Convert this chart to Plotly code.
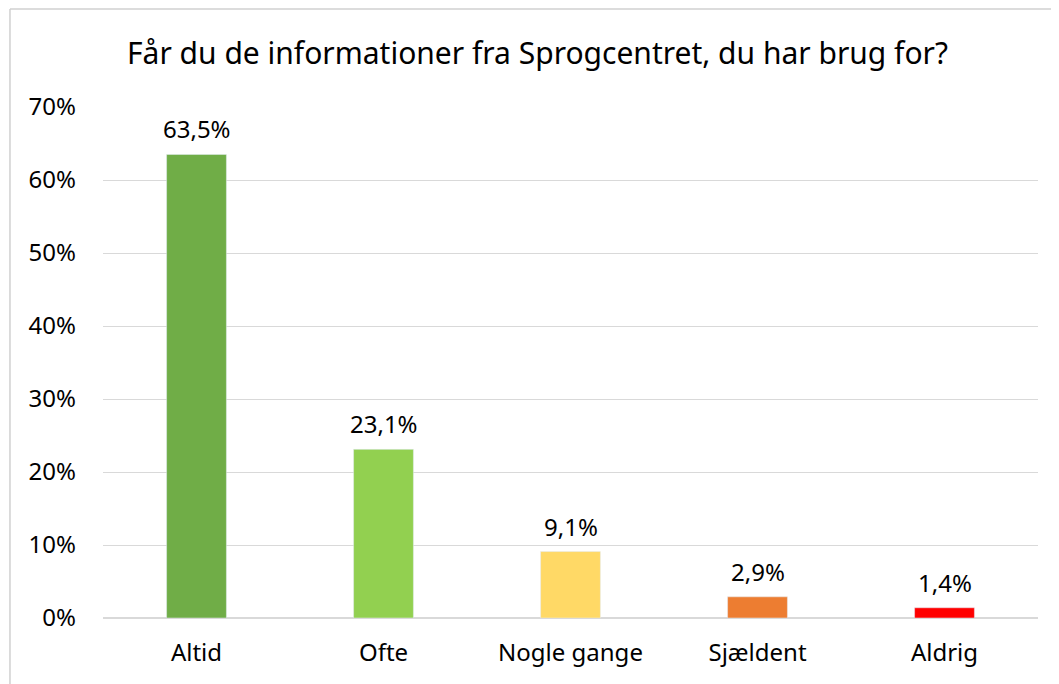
import plotly.graph_objects as go

# Survey answers (share of respondents)
categories = ["Altid", "Ofte", "Nogle gange", "Sjældent", "Aldrig"]
values = [0.635, 0.231, 0.091, 0.029, 0.014]
labels = ["63,5%", "23,1%", "9,1%", "2,9%", "1,4%"]
colors = ["#70AD47", "#92D050", "#FFD966", "#ED7D31", "#FF0000"]
tick_vals = [0, 0.1, 0.2, 0.3, 0.4, 0.5, 0.6, 0.7]
tick_text = ["0%", "10%", "20%", "30%", "40%", "50%", "60%", "70%"]

FONT = "Noto Sans, Open Sans, sans-serif"

fig = go.Figure(
    go.Bar(
        x=categories,
        y=values,
        marker_color=colors,
        width=0.32,
        hoverinfo="x+y",
    )
)

# value labels above the bars
for cat, val, lab in zip(categories, values, labels):
    fig.add_annotation(
        x=cat, y=val, text=lab, showarrow=False,
        yanchor="bottom", yshift=7,
        font=dict(size=24, family=FONT, color="#000000"),
    )

fig.update_layout(
    width=1059,
    height=684,
    margin=dict(l=95, r=29, t=99, b=74),
    paper_bgcolor="white",
    plot_bgcolor="white",
    showlegend=False,
    font=dict(family=FONT, color="#000000", size=24),
    title=dict(
        text="Får du de informationer fra Sprogcentret, du har brug for?",
        x=0.5,
        xanchor="center",
        y=0.933,
        yanchor="middle",
        font=dict(size=30, family=FONT, color="#000000"),
    ),
    shapes=[
        # chart border (left and top edges visible in the crop)
        dict(type="line", xref="paper", yref="paper", x0=-0.0995, x1=1.06,
             y0=1.192, y1=1.192, line=dict(color="#D0D0D0", width=1.5)),
        dict(type="line", xref="paper", yref="paper", x0=-0.0995, x1=-0.0995,
             y0=-0.2, y1=1.192, line=dict(color="#D0D0D0", width=1.5)),
    ],
)

fig.update_yaxes(
    range=[0, 0.7],
    tickvals=tick_vals,
    ticktext=tick_text,
    showgrid=True,
    gridcolor="#D9D9D9",
    gridwidth=1,
    zeroline=True,
    zerolinecolor="#D9D9D9",
    zerolinewidth=1.5,
    showline=False,
    ticks="",
    ticklabelstandoff=26,
    tickfont=dict(size=24, family=FONT),
)
fig.update_xaxes(
    showgrid=False,
    showline=False,
    ticks="",
    tickfont=dict(size=24, family=FONT),
    ticklabelstandoff=18,
)

fig.write_html("out.html")
